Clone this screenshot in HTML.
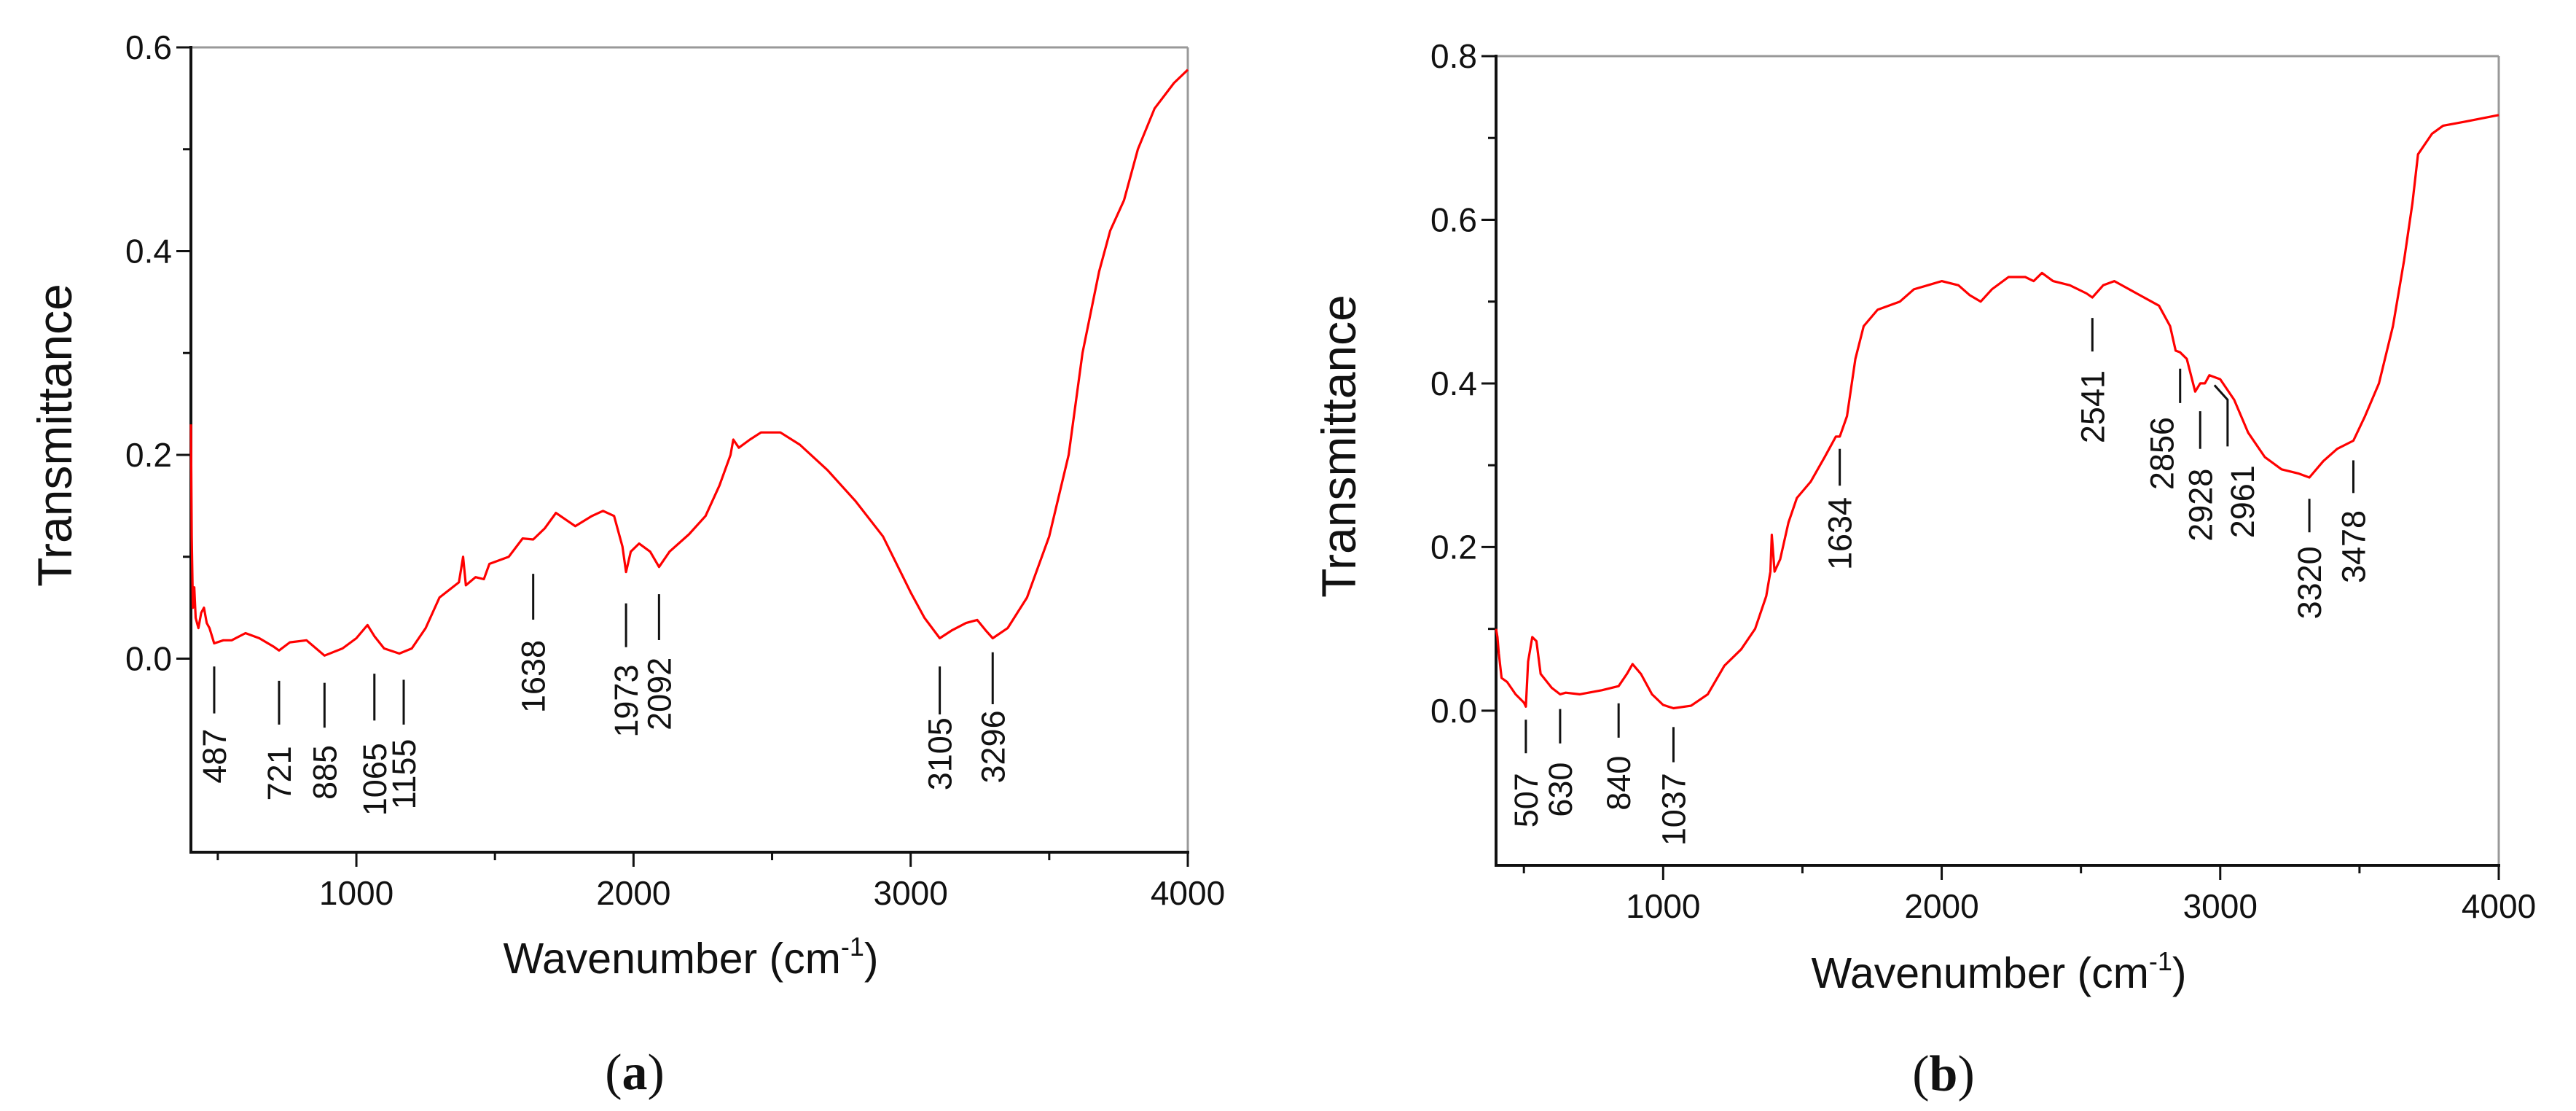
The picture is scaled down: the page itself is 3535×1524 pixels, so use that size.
<!DOCTYPE html>
<html><head><meta charset="utf-8">
<style>
html,body{margin:0;padding:0;background:#fff;}
svg{display:block;}
text{font-family:"Liberation Sans",Arial,sans-serif;fill:#111;}
</style></head>
<body>
<svg id="fig" width="3535" height="1524" viewBox="0 0 3535 1524" xmlns="http://www.w3.org/2000/svg">
<g id="pa"></g>
<g id="pb"></g>
</svg>
<script>
// ---- Panel (a) data ----
const waveA = [403,406,410,415,420,430,440,450,460,470,487,520,550,600,650,700,721,760,820,885,950,1000,1040,1065,1100,1155,1200,1250,1300,1370,1385,1395,1430,1460,1480,1550,1600,1638,1680,1720,1790,1850,1890,1930,1960,1973,1990,2020,2060,2092,2130,2200,2260,2310,2350,2360,2380,2420,2460,2530,2600,2700,2800,2900,3000,3050,3105,3150,3200,3240,3270,3296,3350,3420,3500,3570,3620,3680,3720,3770,3820,3880,3950,4000];
const transA = [0.23,0.12,0.05,0.07,0.04,0.03,0.045,0.05,0.035,0.03,0.015,0.018,0.018,0.025,0.02,0.012,0.008,0.016,0.018,0.003,0.01,0.02,0.033,0.022,0.01,0.005,0.01,0.03,0.06,0.075,0.1,0.072,0.08,0.078,0.093,0.1,0.118,0.117,0.128,0.143,0.13,0.14,0.145,0.14,0.11,0.085,0.105,0.113,0.105,0.09,0.105,0.122,0.14,0.17,0.2,0.215,0.207,0.215,0.222,0.222,0.21,0.185,0.155,0.12,0.065,0.04,0.02,0.028,0.035,0.038,0.028,0.02,0.03,0.06,0.12,0.2,0.3,0.38,0.42,0.45,0.5,0.54,0.565,0.578];
const peaksA = ["487","721","885","1065","1155","1638","1973","2092","3105","3296"];
const peakLineTopA = [0.008,-0.006,-0.008,0.001,-0.005,0.099,0.070,0.079,0.008,0.022];
const peakLineBotA = [-0.038,-0.049,-0.052,-0.045,-0.049,0.054,0.027,0.034,-0.039,-0.029];
const peakLabelTopA = [-0.053,-0.070,-0.069,-0.067,-0.063,0.034,0.010,0.017,-0.042,-0.035];
const yTicksA = [0.0,0.2,0.4,0.6];
const yTickLabelsA = ["0.0","0.2","0.4","0.6"];

// ---- Panel (b) data ----
const waveB = [400,405,410,420,440,470,500,507,515,530,545,560,600,630,650,700,780,840,870,890,920,960,1000,1037,1100,1160,1220,1280,1330,1370,1385,1390,1400,1420,1450,1480,1530,1580,1620,1634,1660,1690,1720,1770,1850,1900,1950,2000,2060,2100,2140,2180,2240,2300,2330,2360,2400,2460,2520,2541,2580,2620,2700,2780,2820,2840,2856,2880,2910,2928,2945,2961,3000,3050,3100,3160,3220,3280,3320,3370,3420,3478,3520,3570,3620,3660,3690,3710,3760,3800,3880,4000];
const transB = [0.1,0.09,0.07,0.04,0.035,0.02,0.01,0.005,0.06,0.09,0.085,0.045,0.028,0.02,0.022,0.02,0.025,0.03,0.045,0.057,0.045,0.02,0.007,0.003,0.006,0.02,0.055,0.075,0.1,0.14,0.17,0.215,0.17,0.185,0.23,0.26,0.28,0.31,0.335,0.335,0.36,0.43,0.47,0.49,0.5,0.515,0.52,0.525,0.52,0.508,0.5,0.515,0.53,0.53,0.525,0.535,0.525,0.52,0.51,0.505,0.52,0.525,0.51,0.495,0.47,0.44,0.438,0.43,0.39,0.4,0.4,0.41,0.405,0.38,0.34,0.31,0.295,0.29,0.285,0.305,0.32,0.33,0.36,0.4,0.47,0.55,0.62,0.68,0.705,0.715,0.72,0.728];
const peaksB = ["507","630","840","1037","1634","2541","2856","2928","2961","3320","3478"];
const peakLineTopB = [-0.011,0.002,0.009,-0.020,0.320,0.480,0.418,0.366,0.380,0.259,0.306];
const peakLineBotB = [-0.052,-0.040,-0.033,-0.063,0.275,0.439,0.376,0.320,0.323,0.218,0.266];
const peakLabelTopB = [-0.076,-0.063,-0.055,-0.076,0.261,0.416,0.359,0.296,0.300,0.201,0.245];
const yTicksB = [0.0,0.2,0.4,0.6,0.8];
const yTickLabelsB = ["0.0","0.2","0.4","0.6","0.8"];

const xTicks = [1000,2000,3000,4000];
const xTickLabels = ["1000","2000","3000","4000"];

const NS = "http://www.w3.org/2000/svg";
function mk(parent, tag, attrs, txt){
  const e = document.createElementNS(NS, tag);
  for (const k in attrs) e.setAttribute(k, attrs[k]);
  if (txt !== undefined) e.textContent = txt;
  parent.appendChild(e);
  return e;
}

function drawPanel(g, cfg){
  const {L,R,T,B,xMin,xMax,yMin,yMax,wave,trans,yTicks,yTickLabels,peaks,lt,lb,lab,letter,ytX,ytY,xtX,xtY,letX,letY,specialSlant,annShift} = cfg;
  const sx = v => L + (v - xMin) / (xMax - xMin) * (R - L);
  const sy = v => B - (v - yMin) / (yMax - yMin) * (B - T);

  const ft = mk(g,'line',{x1:L,y1:T,x2:R,y2:T,stroke:'#999','stroke-width':3});
   
  const fr = mk(g,'line',{x1:R,y1:T,x2:R,y2:B,stroke:'#999','stroke-width':3});
   
  const ya = mk(g,'line',{x1:L,y1:T-2,x2:L,y2:B+2,stroke:'#111','stroke-width':4});
   
  const xa = mk(g,'line',{x1:L-2,y1:B,x2:R+2,y2:B,stroke:'#111','stroke-width':4});
   

  for (let v = 500; v <= xMax; v += 500){
    const major = v % 1000 === 0;
    const t = mk(g,'line',{x1:sx(v),y1:B,x2:sx(v),y2:B+(major?20:11),stroke:'#111','stroke-width':3});
     
  }
  xTicks.forEach((v,i)=>{
    const t = mk(g,'text',{x:sx(v),y:B+72,'font-size':46,'text-anchor':'middle'},xTickLabels[i]);
     
  });
  for (let k = 0; k <= Math.round(yMax*10); k++){
    const v = k/10;
    const major = k % 2 === 0;
    const t = mk(g,'line',{x1:L-(major?20:11),y1:sy(v),x2:L,y2:sy(v),stroke:'#111','stroke-width':3});
     
  }
  yTicks.forEach((v,i)=>{
    const t = mk(g,'text',{x:L-26,y:sy(v)+16,'font-size':46,'text-anchor':'end'},yTickLabels[i]);
     
  });

  const d = wave.map((w,i)=>(i?'L':'M')+sx(w).toFixed(1)+' '+sy(trans[i]).toFixed(1)).join(' ');
  const p = mk(g,'path',{d:d,fill:'none',stroke:'#ff0000','stroke-width':3.2,'stroke-linejoin':'round'});
   

  peaks.forEach((lbl,i)=>{
    const w = parseFloat(lbl);
    let x = sx(w);
    let labOff = 0;
    if (lbl === '1155') x += 6;
    if (lbl === '2856') labOff = -25;
    if (specialSlant && lbl === specialSlant){
      x += 25; labOff = 20;
      const sl = mk(g,'polyline',{points:(x-18)+','+(sy(lt[i])-20)+' '+x+','+sy(lt[i])+' '+x+','+sy(lb[i]),fill:'none',stroke:'#111','stroke-width':3});
       
    } else {
      const ln = mk(g,'line',{x1:x,y1:sy(lt[i])+annShift,x2:x,y2:sy(lb[i])+annShift,stroke:'#111','stroke-width':3});
       
    }
    const tx = x + 16 + labOff;
    const ty = sy(lab[i]) + annShift;
    const t = mk(g,'text',{x:tx,y:ty,'font-size':45,'text-anchor':'end',transform:'rotate(-90 '+tx+' '+ty+')'},lbl);
     
  });

  const yt = mk(g,'text',{x:ytX,y:ytY,'font-size':66,'text-anchor':'middle',transform:'rotate(-90 '+ytX+' '+ytY+')'},'Transmittance');
   
  const xt = mk(g,'text',{x:xtX,y:xtY,'font-size':59,'text-anchor':'middle'});
   
  xt.appendChild(document.createTextNode('Wavenumber (cm'));
  mk(xt,'tspan',{'font-size':36,dy:-24},'-1');
  mk(xt,'tspan',{dy:24},')');
  const lt2 = mk(g,'text',{x:letX,y:letY,'font-size':70,'text-anchor':'middle',style:'font-family:"Liberation Serif",serif'});
   
  lt2.appendChild(document.createTextNode('('));
  mk(lt2,'tspan',{'font-weight':'bold'},letter);
  lt2.appendChild(document.createTextNode(')'));
}

drawPanel(document.getElementById('pa'),{
  L:262,R:1630,T:65,B:1169,xMin:403,xMax:4000,yMin:-0.19,yMax:0.6,
  wave:waveA,trans:transA,yTicks:yTicksA,yTickLabels:yTickLabelsA,
  peaks:peaksA,lt:peakLineTopA,lb:peakLineBotA,lab:peakLabelTopA,letter:'a',
  ytX:98,ytY:597,xtX:948,xtY:1335,letX:871,letY:1494,annShift:22
});
drawPanel(document.getElementById('pb'),{
  L:2053,R:3429,T:77,B:1187,xMin:400,xMax:4000,yMin:-0.189,yMax:0.8,
  wave:waveB,trans:transB,yTicks:yTicksB,yTickLabels:yTickLabelsB,
  peaks:peaksB,lt:peakLineTopB,lb:peakLineBotB,lab:peakLabelTopB,letter:'b',
  ytX:1860,ytY:612,xtX:2743,xtY:1355,letX:2667,letY:1496,specialSlant:'2961',annShift:0
});
</script>
</body></html>
